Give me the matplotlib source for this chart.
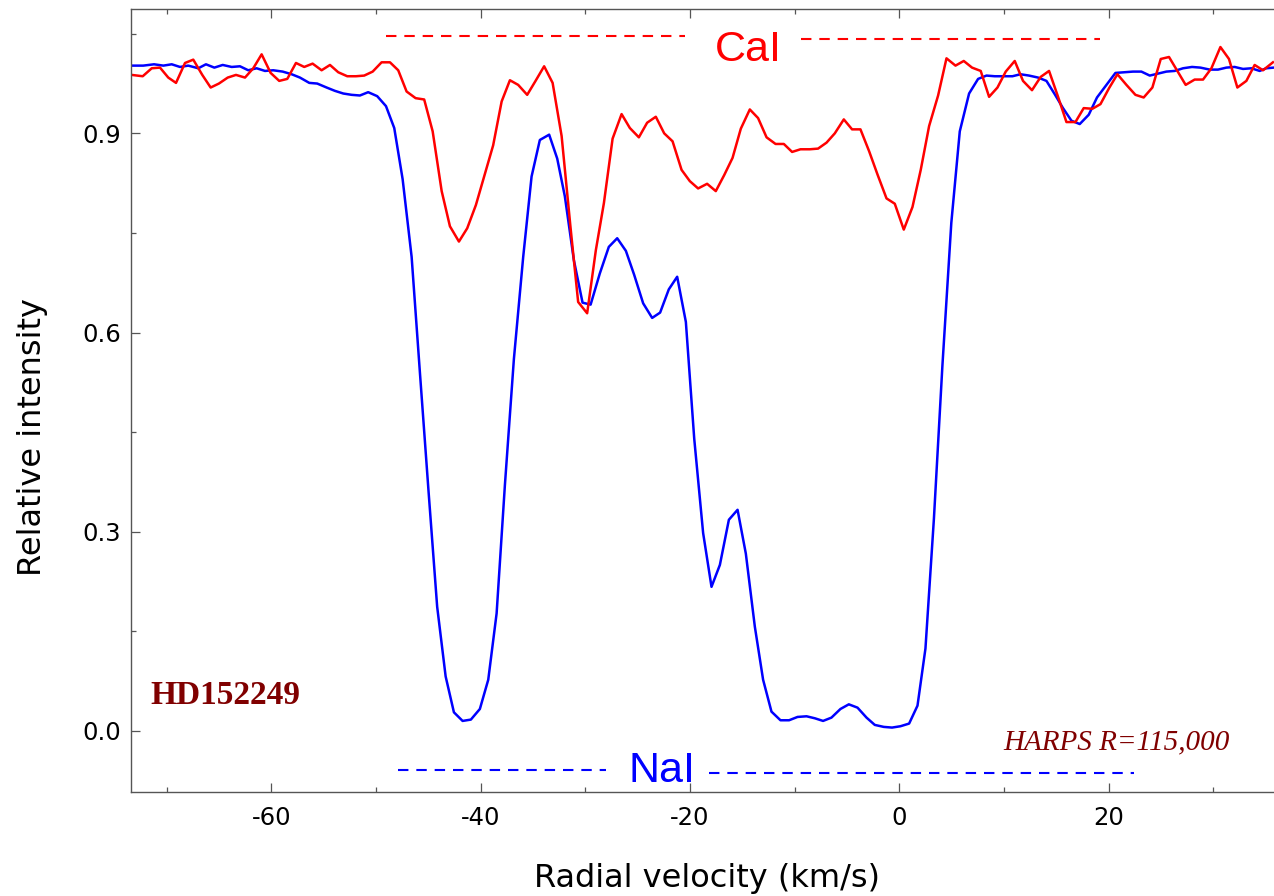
"""Na I and Ca II interstellar line profiles of HD152249 (HARPS)."""
import matplotlib

matplotlib.use("Agg")
import matplotlib.pyplot as plt
from matplotlib.ticker import MultipleLocator

plt.rcParams["axes.unicode_minus"] = False
plt.rcParams["font.family"] = ["DejaVu Sans"]

# Na I profile (blue)
nai_v = [
    -73.33, -72.23, -71.20, -70.31, -69.51, -68.72, -67.93, -66.97, -66.24, -65.44,
    -64.64, -63.78, -62.99, -62.20, -61.40, -60.60, -59.81, -58.91, -58.05, -57.26,
    -56.37, -55.61, -54.71, -53.92, -53.12, -52.32, -51.53, -50.74, -49.88, -49.04,
    -48.25, -47.45, -46.59, -45.80, -44.97, -44.15, -43.34, -42.55, -41.72, -40.93,
    -40.07, -39.27, -38.47, -37.68, -36.82, -35.93, -35.13, -34.34, -33.45, -32.68,
    -31.95, -31.09, -30.26, -29.49, -28.61, -27.75, -26.95, -26.12, -25.33, -24.47,
    -23.61, -22.85, -22.02, -21.22, -20.39, -19.59, -18.74, -17.94, -17.14, -16.28,
    -15.45, -14.66, -13.80, -13.01, -12.21, -11.35, -10.53, -9.72, -8.86, -8.07,
    -7.28, -6.48, -5.62, -4.82, -3.99, -3.13, -2.34, -1.48, -0.69, 0.11,
    0.94, 1.74, 2.50, 3.31, 4.12, 4.97, 5.78, 6.67, 7.53, 8.33,
    9.12, 9.98, 10.81, 11.58, 12.40, 13.26, 14.06, 14.85, 15.64, 16.45,
    17.24, 18.10, 18.89, 19.79, 20.65, 21.54, 22.33, 23.13, 23.93, 24.72,
    25.52, 26.31, 27.11, 27.97, 28.77, 29.66, 30.45, 31.25, 32.04, 32.84,
    33.64, 34.43, 35.07, 35.77,
]
nai_flux = [
    1.002, 1.002, 1.004, 1.002, 1.004, 1.000, 1.002, 0.998, 1.004, 0.999,
    1.003, 1.000, 1.001, 0.995, 0.998, 0.994, 0.995, 0.993, 0.989, 0.984,
    0.976, 0.975, 0.969, 0.964, 0.960, 0.958, 0.957, 0.962, 0.956, 0.941,
    0.908, 0.831, 0.714, 0.540, 0.360, 0.187, 0.082, 0.028, 0.015, 0.017,
    0.033, 0.077, 0.177, 0.370, 0.560, 0.714, 0.835, 0.890, 0.898, 0.862,
    0.805, 0.709, 0.645, 0.642, 0.689, 0.729, 0.742, 0.723, 0.687, 0.644,
    0.622, 0.630, 0.665, 0.684, 0.616, 0.440, 0.298, 0.217, 0.250, 0.318,
    0.333, 0.267, 0.157, 0.077, 0.029, 0.016, 0.016, 0.021, 0.022, 0.019,
    0.015, 0.020, 0.033, 0.040, 0.035, 0.020, 0.009, 0.006, 0.005, 0.007,
    0.011, 0.038, 0.124, 0.320, 0.550, 0.765, 0.903, 0.960, 0.982, 0.987,
    0.986, 0.986, 0.986, 0.989, 0.987, 0.984, 0.979, 0.959, 0.938, 0.919,
    0.914, 0.928, 0.954, 0.973, 0.991, 0.992, 0.993, 0.993, 0.987, 0.990,
    0.993, 0.994, 0.998, 1.000, 0.999, 0.996, 0.996, 0.999, 1.000, 0.997,
    0.998, 0.994, 0.998, 0.999,
]

# Ca I profile (red)
cai_v = [
    -73.33, -72.28, -71.42, -70.63, -69.84, -69.10, -68.24, -67.45, -66.59, -65.79,
    -65.00, -64.16, -63.37, -62.51, -61.72, -60.92, -60.06, -59.24, -58.47, -57.64,
    -56.85, -56.05, -55.19, -54.39, -53.60, -52.74, -51.91, -51.12, -50.31, -49.46,
    -48.66, -47.87, -47.07, -46.21, -45.39, -44.58, -43.72, -42.93, -42.07, -41.28,
    -40.45, -39.66, -38.80, -37.99, -37.20, -36.41, -35.55, -34.75, -33.93, -33.12,
    -32.26, -31.42, -30.68, -29.82, -28.99, -28.22, -27.39, -26.53, -25.74, -24.88,
    -24.09, -23.26, -22.46, -21.66, -20.80, -20.01, -19.22, -18.36, -17.53, -16.73,
    -15.93, -15.14, -14.28, -13.49, -12.68, -11.82, -11.03, -10.24, -9.44, -8.55,
    -7.76, -6.95, -6.16, -5.30, -4.51, -3.71, -2.88, -2.08, -1.22, -0.43,
    0.43, 1.26, 2.05, 2.85, 3.71, 4.51, 5.37, 6.16, 6.95, 7.78,
    8.58, 9.38, 10.17, 11.03, 11.82, 12.68, 13.51, 14.31, 15.17, 15.97,
    16.83, 17.62, 18.45, 19.22, 20.04, 20.84, 21.70, 22.56, 23.35, 24.18,
    24.98, 25.77, 26.57, 27.36, 28.22, 29.02, 29.82, 30.68, 31.50, 32.30,
    33.16, 33.95, 34.75, 35.70,
]
cai_flux = [
    0.988, 0.986, 0.998, 0.999, 0.984, 0.976, 1.006, 1.011, 0.988, 0.969,
    0.975, 0.984, 0.988, 0.984, 0.998, 1.019, 0.991, 0.979, 0.982, 1.006,
    1.000, 1.005, 0.995, 1.003, 0.992, 0.986, 0.986, 0.987, 0.993, 1.007,
    1.007, 0.995, 0.963, 0.953, 0.951, 0.903, 0.813, 0.760, 0.737, 0.757,
    0.792, 0.835, 0.882, 0.948, 0.980, 0.973, 0.958, 0.979, 1.001, 0.976,
    0.896, 0.760, 0.646, 0.629, 0.724, 0.795, 0.892, 0.929, 0.908, 0.894,
    0.916, 0.925, 0.900, 0.888, 0.845, 0.828, 0.817, 0.824, 0.813, 0.837,
    0.863, 0.907, 0.936, 0.923, 0.894, 0.884, 0.884, 0.872, 0.876, 0.876,
    0.877, 0.886, 0.900, 0.921, 0.906, 0.906, 0.873, 0.838, 0.802, 0.794,
    0.755, 0.789, 0.845, 0.911, 0.957, 1.013, 1.002, 1.009, 0.999, 0.994,
    0.955, 0.969, 0.993, 1.009, 0.979, 0.965, 0.985, 0.994, 0.955, 0.917,
    0.917, 0.938, 0.937, 0.944, 0.968, 0.989, 0.973, 0.958, 0.954, 0.969,
    1.012, 1.015, 0.994, 0.973, 0.981, 0.981, 0.998, 1.030, 1.012, 0.969,
    0.979, 1.003, 0.995, 1.007,
]

# Velocity ranges marked above / below the profiles
cai_marks = [(-49.0, -20.5, 1.047), (-9.4, 19.15, 1.042)]
nai_marks = [(-47.9, -28.0, -0.059), (-18.2, 22.4, -0.063)]

RED = "#ff0000"
BLUE = "#0000ff"
DARK_RED = "#800000"
SPINE = "#555555"

fig = plt.figure(figsize=(12.74, 8.96), dpi=100)
ax = fig.add_axes([0.10283, 0.1164, 0.89717, 0.8732])

ax.plot(nai_v, nai_flux, color=BLUE, linewidth=1.8)
ax.plot(cai_v, cai_flux, color=RED, linewidth=1.8)

for v0, v1, level in cai_marks:
    ax.plot([v0, v1], [level, level], color=RED, linewidth=1.5, dashes=(5, 3.8))
for v0, v1, level in nai_marks:
    ax.plot([v0, v1], [level, level], color=BLUE, linewidth=1.5, dashes=(5, 3.8))

# Line labels: narrow sans, as close as the installed fonts allow
narrow = ["Liberation Sans"]
ax.text(-14.4, 1.0093, "CaI", color=RED, fontsize=31, family=narrow,
        stretch="condensed", ha="center", va="baseline")
ax.text(-22.7, -0.0765, "NaI", color=BLUE, fontsize=31, family=narrow,
        stretch="condensed", ha="center", va="baseline")
ax.text(-71.53, 0.0405, "HD152249", color=DARK_RED, fontsize=24,
        family=["Liberation Serif", "DejaVu Serif"], weight="bold", va="baseline")
ax.text(9.96, -0.0273, "HARPS R=115,000", color=DARK_RED, fontsize=21,
        family=["Liberation Serif", "DejaVu Serif"], style="italic", va="baseline")

ax.set_xlim(-73.4, 35.8)
ax.set_ylim(-0.0916, 1.0868)
ax.xaxis.set_major_locator(MultipleLocator(20))
ax.xaxis.set_minor_locator(MultipleLocator(10))
ax.yaxis.set_major_locator(MultipleLocator(0.3))
ax.yaxis.set_minor_locator(MultipleLocator(0.15))
ax.yaxis.set_major_formatter(lambda y, pos: f"{y:.1f}")

ax.tick_params(which="both", direction="in", top=True, right=False,
               color=SPINE, width=0.9, labelsize=17.5)
ax.tick_params(which="major", length=6.2)
ax.tick_params(which="minor", length=3.4)
ax.tick_params(axis="x", pad=10)
ax.tick_params(axis="y", pad=7)

ax.spines["right"].set_visible(False)
for name in ("left", "top", "bottom"):
    ax.spines[name].set_color(SPINE)
    ax.spines[name].set_linewidth(1.0)

ax.set_xlabel("Radial velocity (km/s)", fontsize=23)
ax.set_ylabel("Relative intensity", fontsize=23)
ax.xaxis.set_label_coords(0.504, -0.091)
ax.yaxis.set_label_coords(-0.073, 0.453)

fig.savefig("out.png", dpi=100)
